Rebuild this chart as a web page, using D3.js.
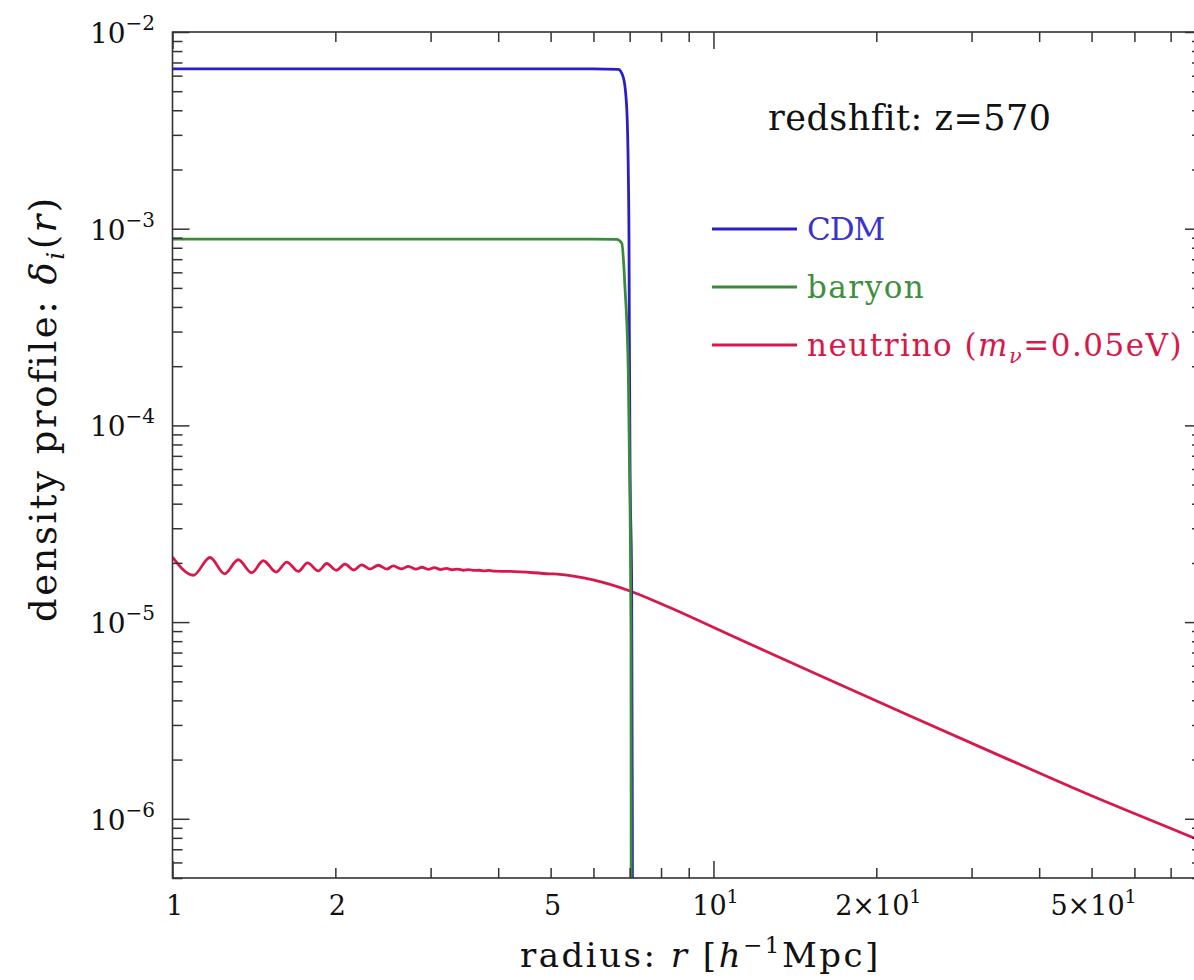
<!DOCTYPE html>
<html>
<head>
<meta charset="utf-8">
<script src="https://cdn.jsdelivr.net/npm/d3@7"></script>
<style>
  body { margin: 0; background: #fff; }
  text { font-family: "DejaVu Serif", serif; fill: #111; }
</style>
</head>
<body>
<script>
// radius r [h^-1 Mpc] and density contrast
let cdmR = [1, 2, 4, 6, 6.67, 6.81, 6.91, 6.96, 6.98, 6.99, 7.01, 7.06, 7.08, 7.09];
let cdmD = [6.5e-3, 6.5e-3, 6.5e-3, 6.5e-3, 6.45e-3, 5.9e-3, 4.2e-3, 1.9e-3, 8.8e-4, 3.1e-4, 6.6e-5, 1.45e-5, 1e-6, 1e-7];

let baryonR = [1, 2, 4, 6, 6.62, 6.77, 6.86, 6.96, 7.01, 7.04, 7.045, 7.05];
let baryonD = [8.85e-4, 8.85e-4, 8.85e-4, 8.85e-4, 8.82e-4, 8.43e-4, 5.08e-4, 1.84e-4, 4.0e-5, 8.7e-6, 5e-7, 1e-7];

let nuR = [1.0, 1.093, 1.173, 1.248, 1.323, 1.401, 1.472, 1.555, 1.626, 1.708, 1.777, 1.860,
    1.928, 2.008, 2.084, 2.162, 2.237, 2.318, 2.401, 2.489, 2.559, 2.653, 2.729, 2.819,
    2.89, 2.97, 3.05, 3.13, 3.21, 3.29, 3.37, 3.45, 3.53, 3.61, 3.69, 3.77, 3.85, 3.93,
    4.21, 4.98, 5.20, 5.99, 7.01, 8.0, 11.04, 15.98, 23.1, 33.5, 48.4, 77.3, 80];
let nuD = [2.14e-5, 1.73e-5, 2.13e-5, 1.76e-5, 2.075e-5, 1.78e-5, 2.05e-5, 1.795e-5, 2.02e-5, 1.81e-5, 2.00e-5, 1.82e-5,
    1.985e-5, 1.835e-5, 1.97e-5, 1.84e-5, 1.955e-5, 1.86e-5, 1.945e-5, 1.86e-5, 1.93e-5, 1.865e-5, 1.92e-5, 1.86e-5,
    1.90e-5, 1.855e-5, 1.89e-5, 1.85e-5, 1.875e-5, 1.845e-5, 1.86e-5, 1.835e-5, 1.85e-5, 1.83e-5, 1.835e-5, 1.82e-5, 1.83e-5, 1.815e-5,
    1.81e-5, 1.76e-5, 1.75e-5, 1.64e-5, 1.44e-5, 1.24e-5, 8.3e-6, 5.24e-6, 3.33e-6, 2.12e-6, 1.36e-6, 7.98e-7, 7.67e-7];

let xMajorTicks = [1, 10];
let xMinorTicks = [2, 3, 4, 5, 6, 7, 8, 9, 20, 30, 40, 50, 60, 70];
let xTickLabels = [
    { v: 1, base: '1' }, { v: 2, base: '2' }, { v: 5, base: '5' },
    { v: 10, base: '10', sup: '1' }, { v: 20, base: '2×10', sup: '1' }, { v: 50, base: '5×10', sup: '1' }
];
let yMajorTicks = [1e-6, 1e-5, 1e-4, 1e-3, 1e-2];
let yTickLabels = [
    { v: 1e-2, sup: '−2' }, { v: 1e-3, sup: '−3' }, { v: 1e-4, sup: '−4' },
    { v: 1e-5, sup: '−5' }, { v: 1e-6, sup: '−6' }
];

let series = [
    { name: 'CDM', r: cdmR, d: cdmD, color: '#2a1ec6', text: '#3a33cc', spacing: -1 },
    { name: 'baryon', r: baryonR, d: baryonD, color: '#3a8b3a', text: '#3f8f3f', spacing: 1.5 },
    { name: 'neutrino', r: nuR, d: nuD, color: '#d8184a', text: '#d8184a', spacing: 1.5 }
];

let W = 1194, H = 980;
let plotLeft = 172.5, plotRight = 1202, plotTop = 32, plotBottom = 878;

let x = d3.scaleLog().domain([1, 80]).range([plotLeft, plotRight]);
let y = d3.scaleLog().domain([5e-7, 1e-2]).range([plotBottom, plotTop]);

let yMinorTicks = [];
[-7, -6, -5, -4, -3].forEach(function(e) {
    [2, 3, 4, 5, 6, 7, 8, 9].forEach(function(m) {
        let v = m * Math.pow(10, e);
        if (v >= 5e-7 && v < 1e-2) yMinorTicks.push(v);
    });
});

let svg = d3.select('body').append('svg')
    .attr('width', W)
    .attr('height', H);

svg.append('defs').append('clipPath')
    .attr('id', 'plot-clip')
    .append('rect')
    .attr('x', plotLeft).attr('y', plotTop)
    .attr('width', plotRight - plotLeft).attr('height', plotBottom - plotTop);

// curves
let line = d3.line()
    .x(function(p) { return x(p[0]); })
    .y(function(p) { return y(p[1]); })
    .curve(d3.curveMonotoneX);

let curveGroup = svg.append('g').attr('clip-path', 'url(#plot-clip)');
[series[2], series[0], series[1]].forEach(function(s) {
    curveGroup.append('path')
        .datum(d3.zip(s.r, s.d))
        .attr('d', line)
        .attr('fill', 'none')
        .attr('stroke', s.color)
        .attr('stroke-width', 2.8)
        .attr('stroke-linejoin', 'round');
});

// ticks, inward on all four sides
function styleAxis(g) {
    g.select('.domain').remove();
    g.selectAll('line').attr('stroke', '#333').attr('stroke-width', 1.5);
}

function addTicks(axisFn, scale, values, size, transform) {
    svg.append('g')
        .attr('transform', transform)
        .call(axisFn(scale).tickValues(values).tickSize(-size).tickFormat(''))
        .call(styleAxis);
}

addTicks(d3.axisBottom, x, xMajorTicks, 17, 'translate(0,' + plotBottom + ')');
addTicks(d3.axisBottom, x, xMinorTicks, 10, 'translate(0,' + plotBottom + ')');
addTicks(d3.axisTop, x, xMajorTicks, 17, 'translate(0,' + plotTop + ')');
addTicks(d3.axisTop, x, xMinorTicks, 10, 'translate(0,' + plotTop + ')');
addTicks(d3.axisLeft, y, yMajorTicks, 17, 'translate(' + plotLeft + ',0)');
addTicks(d3.axisLeft, y, yMinorTicks, 10, 'translate(' + plotLeft + ',0)');
addTicks(d3.axisRight, y, yMajorTicks, 17, 'translate(' + plotRight + ',0)');
addTicks(d3.axisRight, y, yMinorTicks, 10, 'translate(' + plotRight + ',0)');

svg.append('rect')
    .attr('x', plotLeft).attr('y', plotTop)
    .attr('width', plotRight - plotLeft).attr('height', plotBottom - plotTop)
    .attr('fill', 'none')
    .attr('stroke', '#333')
    .attr('stroke-width', 1.6);

// tick labels
let xLab = svg.append('g').selectAll('text')
    .data(xTickLabels)
    .enter().append('text')
    .attr('x', function(d) { return x(d.v) + 2; })
    .attr('y', 915)
    .attr('text-anchor', 'middle')
    .style('font-size', '27px');
xLab.append('tspan').text(function(d) { return d.base; });
xLab.filter(function(d) { return d.sup; })
    .append('tspan')
    .attr('dy', -12)
    .style('font-size', '19px')
    .text(function(d) { return d.sup; });

let yLab = svg.append('g').selectAll('text')
    .data(yTickLabels)
    .enter().append('text')
    .attr('x', 155)
    .attr('y', function(d) { return y(d.v) + 11; })
    .attr('text-anchor', 'end')
    .style('font-size', '28px');
yLab.append('tspan').text('10');
yLab.append('tspan')
    .attr('dy', -13)
    .style('font-size', '20px')
    .text(function(d) { return d.sup; });

// axis titles
let xTitle = svg.append('text')
    .attr('x', 520)
    .attr('y', 967)
    .style('font-size', '34px')
    .style('letter-spacing', '2.5px');
xTitle.append('tspan').text('radius:  ');
xTitle.append('tspan').style('font-style', 'italic').text('r');
xTitle.append('tspan').text('  [');
xTitle.append('tspan').style('font-style', 'italic').text('h');
xTitle.append('tspan').attr('dy', -14).style('font-size', '23px').text('−1');
xTitle.append('tspan').attr('dy', 14).text('Mpc]');

let yTitle = svg.append('text')
    .attr('transform', 'translate(56,622) rotate(-90)')
    .style('font-size', '37px')
    .style('letter-spacing', '2.5px');
yTitle.append('tspan').text('density profile:  ');
yTitle.append('tspan').style('font-style', 'italic').text('δ');
yTitle.append('tspan').attr('dy', 8).style('font-style', 'italic').style('font-size', '25px').text('i');
yTitle.append('tspan').attr('dy', -8).text('(');
yTitle.append('tspan').style('font-style', 'italic').text('r');
yTitle.append('tspan').text(')');

// annotation
svg.append('text')
    .attr('x', 768)
    .attr('y', 130)
    .style('font-size', '35px')
    .style('letter-spacing', '0.5px')
    .text('redshfit:  z=570');

// legend
let legendY = [229, 287, 345];
let legend = svg.append('g').selectAll('g')
    .data(series)
    .enter().append('g')
    .attr('transform', function(d, i) { return 'translate(0,' + legendY[i] + ')'; });

legend.append('line')
    .attr('x1', 712).attr('x2', 797)
    .attr('y1', 0).attr('y2', 0)
    .attr('stroke', function(d) { return d.color; })
    .attr('stroke-width', 3);

let legendText = legend.append('text')
    .attr('x', 807)
    .attr('y', 11)
    .style('font-size', '31px')
    .style('letter-spacing', function(d) { return d.spacing + 'px'; })
    .style('fill', function(d) { return d.text; });

legendText.filter(function(d) { return d.name != 'neutrino'; })
    .text(function(d) { return d.name; });

let nuText = legendText.filter(function(d) { return d.name == 'neutrino'; });
nuText.append('tspan').text('neutrino (');
nuText.append('tspan').style('font-style', 'italic').text('m');
nuText.append('tspan').attr('dy', 7).style('font-style', 'italic').style('font-size', '21px').text('ν');
nuText.append('tspan').attr('dy', -7).text('=0.05eV)');
</script>
</body>
</html>
